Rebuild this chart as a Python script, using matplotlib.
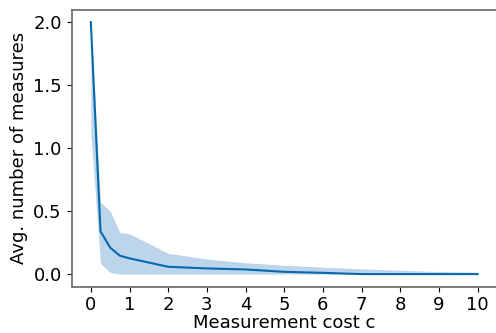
import matplotlib
matplotlib.use("Agg")
import matplotlib.pyplot as plt
import numpy as np

cost = [0, 0.25, 0.5, 0.75, 1, 2, 3, 4, 5, 6, 7, 8, 9, 10]
avg_measures = [2.0, 0.34, 0.21, 0.146, 0.125, 0.058, 0.045, 0.037, 0.018, 0.01, 0.0, 0.0, 0.0, 0.0]
upper = [2.0, 0.57, 0.50, 0.33, 0.32, 0.165, 0.12, 0.09, 0.07, 0.055, 0.042, 0.03, 0.02, 0.015]
lower = [1.12, 0.085, 0.013, 0.0, 0.0, 0.0, 0.0, 0.0, 0.0, 0.0, 0.0, 0.0, 0.0, 0.0]
xticks = list(range(0, 11))
yticks = [0.0, 0.5, 1.0, 1.5, 2.0]

fig = plt.figure(figsize=(4.96, 3.33), dpi=100)
ax = fig.add_axes([71.5/496, 1-286.7/333, (497-71.5)/496, (286.7-9.5)/333])
color = "#0868ac"
ax.fill_between(cost, lower, upper, color="#bcd5ea", linewidth=0)
ax.plot(cost, avg_measures, color=color, linewidth=1.5)
ax.set_xlim(-0.5, 10.5)
ax.set_ylim(-0.1, 2.1)
ax.set_xticks(xticks)
ax.set_xticklabels([str(t) for t in xticks])
ax.set_yticks(yticks)
ax.set_yticklabels([f"{t:.1f}" for t in yticks])
ax.tick_params(labelsize=13, color="black", length=3.5, pad=3.5)
ax.set_xlabel("Measurement cost c", fontsize=13, labelpad=0)
ax.set_ylabel("Avg. number of measures", fontsize=13, labelpad=4)
for s in ax.spines.values():
    s.set_color("#666666")
    s.set_linewidth(1.2)
fig.savefig("out.png", dpi=100)
